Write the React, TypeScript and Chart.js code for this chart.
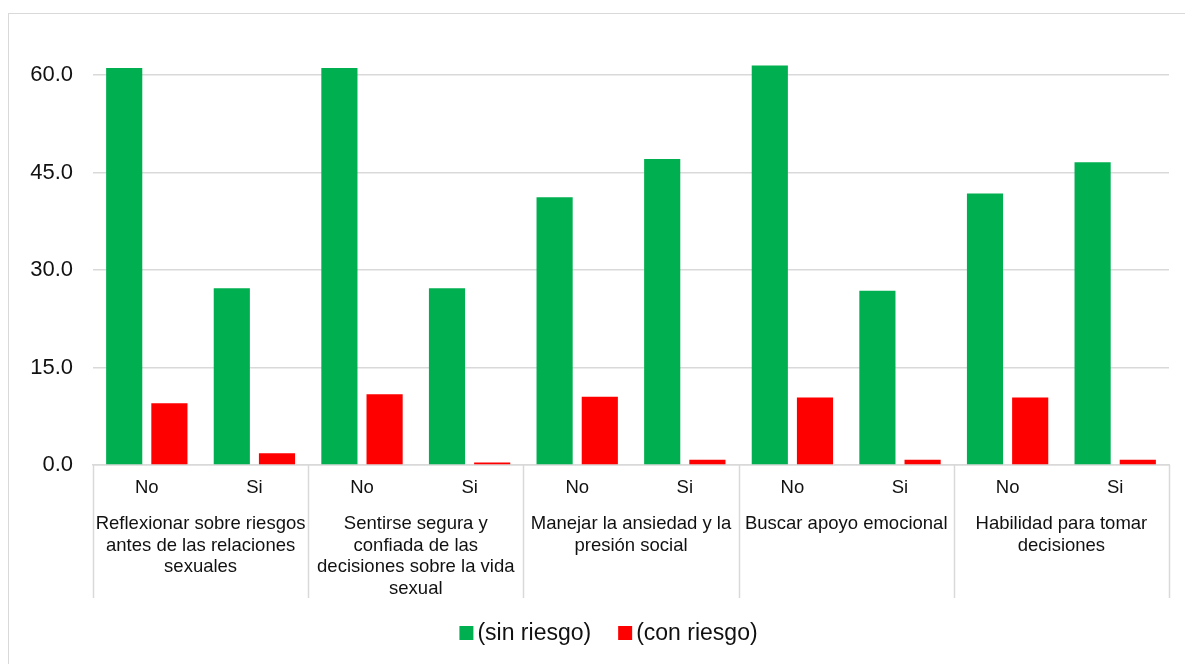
import React, { useEffect, useRef } from "react";
import { Chart, registerables } from "chart.js";

Chart.register(...registerables);

// ---- Data ----
const subCategories = ["No", "Si", "No", "Si", "No", "Si", "No", "Si", "No", "Si"];
const groupLabels: string[][] = [
  ["Reflexionar sobre riesgos", "antes de las relaciones", "sexuales"],
  ["Sentirse segura y", "confiada de las", "decisiones sobre la vida", "sexual"],
  ["Manejar la ansiedad y la", "presión social"],
  ["Buscar apoyo emocional"],
  ["Habilidad para tomar", "decisiones"],
];
const seriesNames = ["(sin riesgo)", "(con riesgo)"];
const sinRiesgo = [61.1, 27.2, 61.1, 27.2, 41.2, 47.1, 61.5, 26.8, 41.8, 46.6];
const conRiesgo = [9.5, 1.8, 10.9, 0.4, 10.5, 0.8, 10.4, 0.8, 10.4, 0.8];
const yTickValues = [0, 15, 30, 45, 60];

const GREEN = "#00b050";
const RED = "#ff0000";
const GRID = "#d9d9d9";
const TEXT = "#111111";
const FONT = "'Liberation Sans', Arial, sans-serif";

export default function App() {
  const canvasRef = useRef<HTMLCanvasElement | null>(null);

  useEffect(() => {
    if (!canvasRef.current) return;

    const groupPlugin = {
      id: "groupAxis",
      afterDraw(chart: any) {
        const ctx = chart.ctx as CanvasRenderingContext2D;
        const xs = chart.scales.x;
        const area = chart.chartArea;
        const n = subCategories.length;
        const px = (i: number) => xs.getPixelForValue(i);
        const step = n > 1 ? px(1) - px(0) : 0;
        ctx.save();
        // dividers
        ctx.strokeStyle = GRID;
        ctx.lineWidth = 1.5;
        const bottomY = 584;
        for (let g = 0; g <= groupLabels.length; g++) {
          const x = px(g * 2) - step / 2;
          ctx.beginPath();
          ctx.moveTo(Math.round(x) + 0.5, area.bottom);
          ctx.lineTo(Math.round(x) + 0.5, bottomY);
          ctx.stroke();
        }
        // group labels
        ctx.fillStyle = TEXT;
        ctx.font = `18.5px ${FONT}`;
        ctx.textAlign = "center";
        ctx.textBaseline = "middle";
        groupLabels.forEach((lines, g) => {
          const cx = (px(g * 2) + px(g * 2 + 1)) / 2;
          lines.forEach((line, li) => {
            ctx.fillText(line, cx, 510 + li * 21.7);
          });
        });
        // legend
        ctx.font = `23px ${FONT}`;
        const box = 14;
        const boxGap = 4;
        const itemGap = 27;
        const colors = [GREEN, RED];
        const widths = seriesNames.map((s) => ctx.measureText(s).width);
        const total = widths.reduce((a, w) => a + box + boxGap + w, 0) + itemGap * (seriesNames.length - 1);
        let x = 599.5 - total / 2;
        const cy = 619;
        ctx.textAlign = "left";
        seriesNames.forEach((s, i) => {
          ctx.fillStyle = colors[i];
          ctx.fillRect(x, cy - box / 2, box, box);
          x += box + boxGap;
          ctx.fillStyle = TEXT;
          ctx.fillText(s, x, cy + 1);
          x += widths[i] + itemGap;
        });
        ctx.restore();
      },
    };

    const chart = new Chart(canvasRef.current, {
      type: "bar",
      data: {
        labels: subCategories,
        datasets: [
          {
            label: seriesNames[0],
            data: sinRiesgo,
            backgroundColor: GREEN,
            categoryPercentage: 0.84,
            barPercentage: 0.8,
          },
          {
            label: seriesNames[1],
            data: conRiesgo,
            backgroundColor: RED,
            categoryPercentage: 0.84,
            barPercentage: 0.8,
          },
        ],
      },
      options: {
        responsive: true,
        maintainAspectRatio: false,
        animation: false,
        layout: { padding: { top: 23, right: 16, bottom: 0, left: 0 } },
        plugins: {
          legend: { display: false },
          tooltip: { enabled: false },
        },
        scales: {
          x: {
            grid: { display: false, drawTicks: false },
            border: { display: true, color: GRID, width: 1.5 },
            ticks: {
              color: TEXT,
              font: { family: FONT, size: 18.5 },
              padding: 12,
              maxRotation: 0,
              autoSkip: false,
            },
            afterFit(scale: any) {
              scale.height = 199;
            },
          },
          y: {
            min: 0,
            max: 64.3,
            grid: { color: GRID, lineWidth: 1.5, drawTicks: false },
            border: { display: false },
            ticks: {
              color: TEXT,
              font: { family: FONT, size: 22 },
              padding: 20,
              callback: (v: any) => Number(v).toFixed(1),
            },
            afterBuildTicks(scale: any) {
              scale.ticks = yTickValues.map((v) => ({ value: v }));
            },
            afterFit(scale: any) {
              scale.width = 84;
            },
          },
        },
      },
      plugins: [groupPlugin],
    });

    return () => chart.destroy();
  }, []);

  return (
    <div
      style={{
        position: "fixed",
        left: 0,
        top: 0,
        width: 1185,
        height: 664,
        overflow: "hidden",
        background: "#ffffff",
      }}
    >
      <div
        style={{
          position: "absolute",
          left: 8,
          top: 13,
          width: 1300,
          height: 800,
          border: `1px solid ${GRID}`,
          boxSizing: "border-box",
        }}
      />
      <div
        style={{
          position: "absolute",
          left: 9,
          top: 14,
          width: 1176,
          height: 650,
        }}
      >
        <canvas ref={canvasRef} />
      </div>
    </div>
  );
}
